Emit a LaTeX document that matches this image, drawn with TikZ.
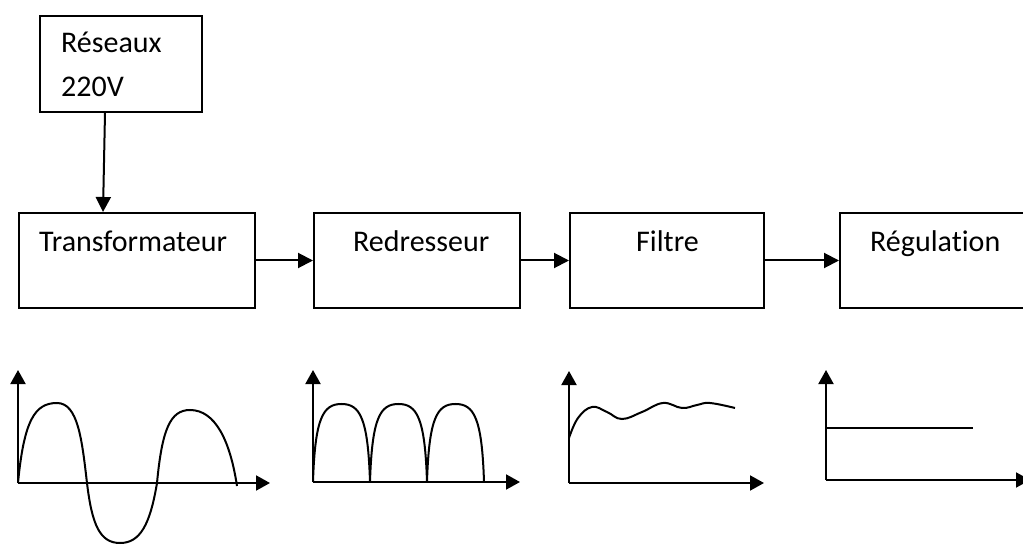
\documentclass[tikz,border=0pt]{standalone}
\usepackage{fontspec}
\setmainfont{Carlito}[Ligatures={NoCommon}]
\usetikzlibrary{arrows.meta,calc}
\begin{document}
\begin{tikzpicture}[x=1pt,y=-1pt,
  box/.style={draw,line width=2pt,minimum width=#1,minimum height=95pt,inner sep=0pt,anchor=north west},
  box/.default=200pt,
  lbl/.style={anchor=base west,inner sep=0pt,font=\fontsize{30}{36}\selectfont},
  arr/.style={line width=2pt,-{Triangle[length=15pt,width=15pt]}},
  ax/.style={line width=2pt,-{Triangle[length=14pt,width=15pt]}},
  wave/.style={line width=2pt}]
\clip (0,0) rectangle (1023,545);
\fill[white] (0,0) rectangle (1023,545);
% boxes
\node[box=162pt,minimum height=96pt] (res) at (39,15) {};
\node[box=236pt] (trans) at (18,212) {};
\node[box=206pt] (redr) at (313,212) {};
\node[box=194pt] (filt) at (569,212) {};
\node[box=220pt] (regu) at (839,212) {};
% labels
\node[lbl] (t1) at (61,53) {Réseaux};
\node[lbl] (t2) at (61,97) {220V};
\node[lbl] (t3) at (39,252) {Transformateur};
\node[lbl] (t4) at (353,252) {Redresseur};
\node[lbl] (t5) at (636,252) {Filtre};
\node[lbl] (t6) at (870,252) {Régulation};
% connectors
\coordinate (rs) at ($(res.south west)+(66,0)$);
\coordinate (tn) at ($(trans.north west)+(85,0)$);
\draw[arr] (rs) -- (tn);
\draw[arr] (trans.east) -- (redr.west);
\draw[arr] (redr.east) -- (filt.west);
\draw[arr] (filt.east) -- (regu.west);
% graph 1: sine
\draw[ax] (18,483) -- (18,370);
\draw[ax] (18,483) -- (270,483);
\draw[wave] (18,483) .. controls (24,420) and (35,403) .. (57,403)
  .. controls (78,403) and (82,440) .. (87,483)
  .. controls (92,525) and (100,543) .. (120,543)
  .. controls (140,543) and (150,525) .. (157,483)
  .. controls (162,430) and (170,410) .. (190,410)
  .. controls (215,410) and (230,440) .. (237,486);
% graph 2: rectified
\draw[ax] (313,482) -- (313,370);
\draw[ax] (313,482) -- (520,482);
\foreach \a in {313,370,427}{
  \draw[wave] (\a,482) .. controls (\a+2,418) and (\a+10,404) .. (\a+28.5,404)
    .. controls (\a+47,404) and (\a+55,418) .. (\a+57,482);
}
% graph 3: filtered
\draw[ax] (569,483) -- (569,371);
\draw[ax] (569,483) -- (764,483);
\draw[wave] plot[smooth,tension=0.7] coordinates {(569,438) (578,418) (592,407) (607,412) (622,419) (642,412) (663,403) (682,408) (697,405) (710,403) (735,408)};
% graph 4: regulated
\draw[ax] (826,480) -- (826,370);
\draw[ax] (826,480) -- (1030,480);
\draw[wave] (826,428) -- (973,428);
\end{tikzpicture}
\end{document}
